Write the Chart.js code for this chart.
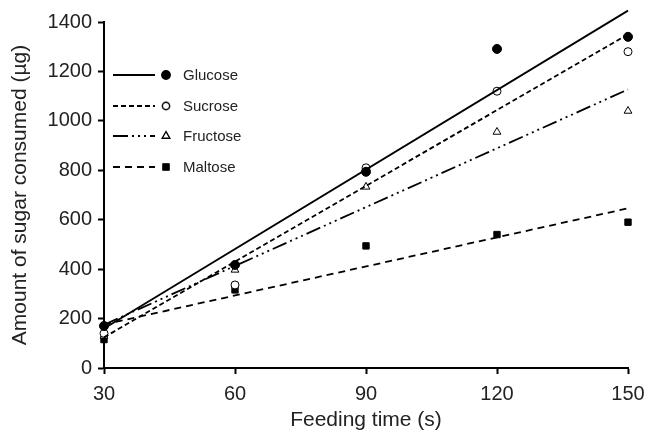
<!DOCTYPE html>
<html>
<head>
<meta charset="utf-8">
<script src="https://cdn.jsdelivr.net/npm/chart.js@4"></script>
<style>
  html, body { margin: 0; padding: 0; background: #fff; }
  #wrap { width: 659px; height: 434px; }
</style>
</head>
<body>
<div id="wrap"><canvas id="chart"></canvas></div>
<script>
// feeding time (s)
const times = [30, 60, 90, 120, 150];
const xTicks = [30, 60, 90, 120, 150];
const yTicks = [0, 200, 400, 600, 800, 1000, 1200, 1400];

// measured sugar consumed (µg)
const glucose = [170, 417, 794, 1291, 1340];
const sucrose = [140, 336, 810, 1120, 1280];
const fructose = [130, 397, 733, 955, 1040];
const maltose = [115, 316, 494, 540, 590];

// fitted lines, end points at 30 s and 150 s
const fitX = [30, 150];
const glucoseFit = [160, 1446];
const sucroseFit = [124, 1350];
const fructoseFit = [175, 1127];
const maltoseFit = [176, 646];

const names = ['Glucose', 'Sucrose', 'Fructose', 'Maltose'];

const toPts = (xs, ys) => xs.map((x, i) => ({ x, y: ys[i] }));

const series = [
  { name: names[0], pts: glucose, fit: glucoseFit, dash: [], style: 'circle', fill: '#000', r: 4.5 },
  { name: names[1], pts: sucrose, fit: sucroseFit, dash: [5, 3], style: 'circle', fill: '#fff', r: 4 },
  { name: names[2], pts: fructose, fit: fructoseFit, dash: [15, 4, 2, 4, 2, 4, 2, 4], style: 'triangle', fill: '#fff', r: 4.5 },
  { name: names[3], pts: maltose, fit: maltoseFit, dash: [7, 5], style: 'rect', fill: '#000', r: 4.5 },
];

const datasets = [];
series.forEach(s => {
  datasets.push({
    label: s.name + ' fit',
    data: toPts(fitX, s.fit),
    showLine: true,
    borderColor: '#000',
    borderWidth: 1.8,
    borderDash: s.dash,
    pointRadius: 0,
    clip: false,
  });
});
series.forEach(s => {
  datasets.push({
    label: s.name,
    data: toPts(times, s.pts),
    showLine: false,
    pointStyle: s.style,
    pointRadius: s.r,
    pointBackgroundColor: s.fill,
    pointBorderColor: '#000',
    pointBorderWidth: 1,
    clip: false,
  });
});

// legend drawn inside the plot: line sample + marker + name
const insideLegend = {
  id: 'insideLegend',
  afterDatasetsDraw(chart) {
    const ctx = chart.ctx;
    const rows = [75, 106, 136, 167];
    ctx.save();
    series.forEach((s, i) => {
      const y = rows[i];
      ctx.beginPath();
      ctx.setLineDash(s.dash);
      ctx.lineWidth = 1.8;
      ctx.strokeStyle = '#000';
      ctx.moveTo(113, y);
      ctx.lineTo(155, y);
      ctx.stroke();
      ctx.setLineDash([]);
      Chart.helpers.drawPoint(ctx, { pointStyle: s.style, radius: s.r - 0.5, borderWidth: 1 }, 166, y);
      ctx.fillStyle = s.fill;
      ctx.strokeStyle = '#000';
      ctx.lineWidth = 1;
      ctx.fill();
      ctx.stroke();
      ctx.fillStyle = '#222';
      ctx.font = '15px "Liberation Sans", Arial, sans-serif';
      ctx.textBaseline = 'middle';
      ctx.textAlign = 'left';
      ctx.fillText(s.name, 183, y + 1);
    });
    ctx.restore();
  }
};

const tickFont = { family: '"Liberation Sans", Arial, sans-serif', size: 20 };
const titleFont = { family: '"Liberation Sans", Arial, sans-serif', size: 21 };

new Chart(document.getElementById('chart'), {
  type: 'scatter',
  data: { datasets },
  plugins: [insideLegend],
  options: {
    responsive: true,
    maintainAspectRatio: false,
    animation: false,
    layout: { padding: { top: 22, right: 31, bottom: 0, left: 0 } },
    plugins: { legend: { display: false }, tooltip: { enabled: false } },
    scales: {
      x: {
        type: 'linear',
        min: 30,
        max: 150,
        afterBuildTicks: axis => { axis.ticks = xTicks.map(v => ({ value: v })); },
        afterFit: axis => { axis.height = 66; },
        grid: { display: true, drawOnChartArea: false, drawTicks: true, tickLength: 6, tickWidth: 2, tickColor: '#000' },
        border: { display: true, color: '#000', width: 2 },
        ticks: { color: '#222', font: tickFont, padding: 8, maxRotation: 0, callback: v => String(v) },
        title: { display: true, text: 'Feeding time (s)', color: '#222', font: titleFont, padding: { top: 0, bottom: 1 } },
      },
      y: {
        min: 0,
        max: 1400,
        afterBuildTicks: axis => { axis.ticks = yTicks.map(v => ({ value: v })); },
        afterFit: axis => { axis.width = 104; },
        grid: { display: true, drawOnChartArea: false, drawTicks: true, tickLength: 6, tickWidth: 2, tickColor: '#000' },
        border: { display: true, color: '#000', width: 2 },
        ticks: { color: '#222', font: tickFont, padding: 6, callback: v => String(v) },
        title: { display: true, text: 'Amount of sugar consumed (µg)', color: '#222', font: titleFont, padding: { top: 8, bottom: 0 } },
      },
    },
  },
});
</script>
</body>
</html>
